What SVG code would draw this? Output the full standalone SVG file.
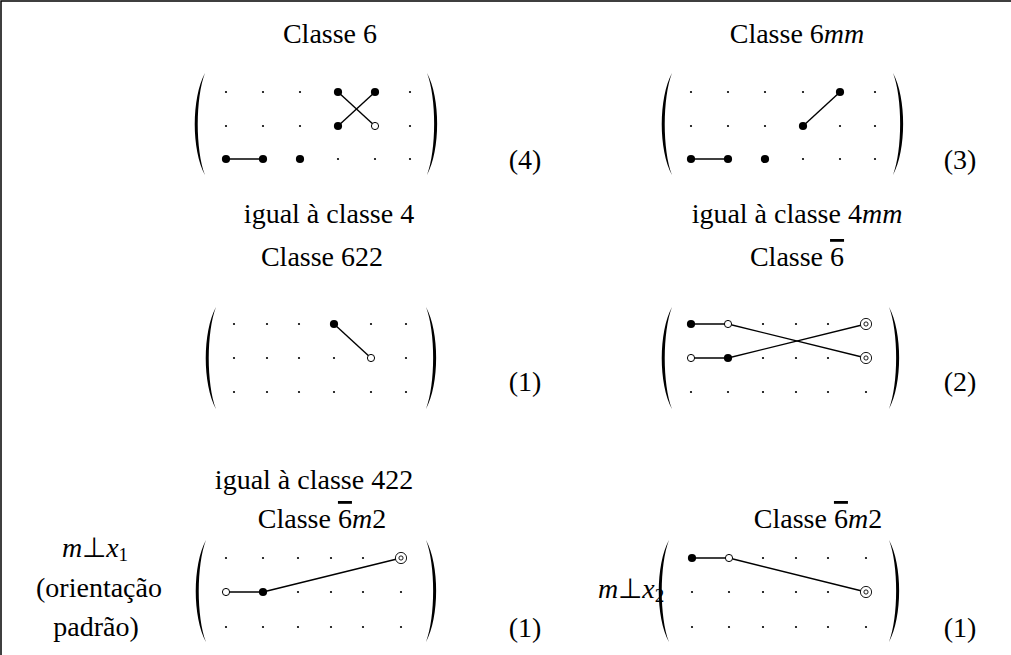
<svg xmlns="http://www.w3.org/2000/svg" xmlns:xlink="http://www.w3.org/1999/xlink" width="1011" height="655" viewBox="0 0 1011 655">
<style>
text{font-family:"Liberation Serif","Times New Roman",serif;font-size:28px;fill:#000}
.i{font-style:italic}
.c{text-anchor:middle}
.bar{text-decoration:overline}
.d{fill:#000}
.ln{stroke:#000;stroke-width:1.4;fill:none}
.par{fill:#000}
.frame{stroke:#000;stroke-width:1.5;fill:none}
</style>
<defs>
<path id="lp" d="M10 0 C -3.6 25, -3.6 77, 10 102 C 0.4 77, 0.4 25, 10 0 Z"/>
<path id="rp" d="M0 0 C 13.6 25, 13.6 77, 0 102 C 9.6 77, 9.6 25, 0 0 Z"/>
<circle id="sd" r="1.1"/>
<circle id="fd" r="4.1"/>
<circle id="od" r="3.6" fill="#fff" stroke="#000" stroke-width="1"/>
<g id="dd"><circle r="5.6" fill="#fff" stroke="#000" stroke-width="0.9"/><circle r="2.1" fill="none" stroke="#000" stroke-width="0.9"/></g>
</defs>
<path class="frame" d="M1 655 V1 H1011"/>

<g id="panel-6">
<text class="c" x="330" y="43">Classe 6</text>
<use href="#lp" x="195" y="73" class="par"/><use href="#rp" x="427" y="73" class="par"/>
<g class="ln"><line x1="338" y1="92" x2="375" y2="126"/><line x1="338" y1="126" x2="375" y2="92"/><line x1="226" y1="159" x2="263" y2="159"/></g>
<g class="d">
<use href="#sd" x="226" y="92"/><use href="#sd" x="263" y="92"/><use href="#sd" x="300" y="92"/><use href="#sd" x="410" y="92"/>
<use href="#sd" x="226" y="126"/><use href="#sd" x="263" y="126"/><use href="#sd" x="300" y="126"/><use href="#sd" x="410" y="126"/>
<use href="#sd" x="338" y="159"/><use href="#sd" x="375" y="159"/><use href="#sd" x="410" y="159"/>
</g>
<use href="#fd" x="338" y="92"/><use href="#fd" x="375" y="92"/><use href="#fd" x="338" y="126"/><use href="#od" x="375" y="126"/>
<use href="#fd" x="226" y="159"/><use href="#fd" x="263" y="159"/><use href="#fd" x="300" y="159"/>
<text class="c" x="525" y="169">(4)</text>
<text class="c" x="329" y="223">igual à classe 4</text>
</g>

<g id="panel-6mm">
<text class="c" x="797" y="43">Classe 6<tspan class="i">mm</tspan></text>
<use href="#lp" x="662" y="73" class="par"/><use href="#rp" x="893" y="73" class="par"/>
<g class="ln"><line x1="803" y1="126" x2="840" y2="92"/><line x1="691" y1="159" x2="728" y2="159"/></g>
<g class="d">
<use href="#sd" x="691" y="92"/><use href="#sd" x="728" y="92"/><use href="#sd" x="765" y="92"/><use href="#sd" x="803" y="92"/><use href="#sd" x="875" y="92"/>
<use href="#sd" x="691" y="126"/><use href="#sd" x="728" y="126"/><use href="#sd" x="765" y="126"/><use href="#sd" x="840" y="126"/><use href="#sd" x="875" y="126"/>
<use href="#sd" x="803" y="159"/><use href="#sd" x="840" y="159"/><use href="#sd" x="875" y="159"/>
</g>
<use href="#fd" x="840" y="92"/><use href="#fd" x="803" y="126"/>
<use href="#fd" x="691" y="159"/><use href="#fd" x="728" y="159"/><use href="#fd" x="765" y="159"/>
<text class="c" x="960" y="169">(3)</text>
<text class="c" x="797" y="223">igual à classe 4<tspan class="i">mm</tspan></text>
</g>

<g id="panel-622">
<text class="c" x="322" y="266">Classe 622</text>
<use href="#lp" x="206" y="307" class="par"/><use href="#rp" x="426" y="307" class="par"/>
<g class="ln"><line x1="334" y1="324" x2="371" y2="358"/></g>
<g class="d">
<use href="#sd" x="234" y="324"/><use href="#sd" x="267" y="324"/><use href="#sd" x="299" y="324"/><use href="#sd" x="371" y="324"/><use href="#sd" x="406" y="324"/>
<use href="#sd" x="234" y="358"/><use href="#sd" x="267" y="358"/><use href="#sd" x="299" y="358"/><use href="#sd" x="334" y="358"/><use href="#sd" x="406" y="358"/>
<use href="#sd" x="234" y="392"/><use href="#sd" x="267" y="392"/><use href="#sd" x="299" y="392"/><use href="#sd" x="334" y="392"/><use href="#sd" x="371" y="392"/><use href="#sd" x="406" y="392"/>
</g>
<use href="#fd" x="334" y="324"/><use href="#od" x="371" y="358"/>
<text class="c" x="525" y="391">(1)</text>
<text class="c" x="314" y="489">igual à classe 422</text>
</g>

<g id="panel-6bar">
<text class="c" x="797" y="266">Classe <tspan class="bar">6</tspan></text>
<use href="#lp" x="662" y="307" class="par"/><use href="#rp" x="889" y="307" class="par"/>
<g class="ln"><line x1="691" y1="324" x2="728" y2="324"/><line x1="691" y1="358" x2="728" y2="358"/><line x1="728" y1="324" x2="866" y2="358"/><line x1="728" y1="358" x2="866" y2="324"/></g>
<g class="d">
<use href="#sd" x="763" y="324"/><use href="#sd" x="796" y="324"/><use href="#sd" x="828" y="324"/>
<use href="#sd" x="763" y="358"/><use href="#sd" x="796" y="358"/><use href="#sd" x="828" y="358"/>
<use href="#sd" x="691" y="392"/><use href="#sd" x="728" y="392"/><use href="#sd" x="763" y="392"/><use href="#sd" x="796" y="392"/><use href="#sd" x="828" y="392"/><use href="#sd" x="866" y="392"/>
</g>
<use href="#fd" x="691" y="324"/><use href="#od" x="728" y="324"/><use href="#dd" x="866" y="324"/>
<use href="#od" x="691" y="358"/><use href="#fd" x="728" y="358"/><use href="#dd" x="866" y="358"/>
<text class="c" x="960" y="391">(2)</text>
</g>

<g id="panel-6barm2-x1">
<text class="c" x="322" y="528">Classe <tspan class="bar">6</tspan><tspan class="i">m</tspan>2</text>
<text class="c" x="95" y="557"><tspan class="i">m</tspan>⊥<tspan class="i">x</tspan><tspan font-size="19" dy="4">1</tspan></text>
<text class="c" x="99" y="597">(orientação</text>
<text class="c" x="96" y="636">padrão)</text>
<use href="#lp" x="196" y="540" class="par"/><use href="#rp" x="426" y="540" class="par"/>
<g class="ln"><line x1="226" y1="592" x2="263" y2="592"/><line x1="263" y1="592" x2="401" y2="558"/></g>
<g class="d">
<use href="#sd" x="226" y="558"/><use href="#sd" x="263" y="558"/><use href="#sd" x="298" y="558"/><use href="#sd" x="331" y="558"/><use href="#sd" x="363" y="558"/>
<use href="#sd" x="298" y="592"/><use href="#sd" x="331" y="592"/><use href="#sd" x="363" y="592"/><use href="#sd" x="401" y="592"/>
<use href="#sd" x="226" y="627"/><use href="#sd" x="263" y="627"/><use href="#sd" x="298" y="627"/><use href="#sd" x="331" y="627"/><use href="#sd" x="363" y="627"/><use href="#sd" x="401" y="627"/>
</g>
<use href="#od" x="226" y="592"/><use href="#fd" x="263" y="592"/><use href="#dd" x="401" y="558"/>
<text class="c" x="525" y="637">(1)</text>
</g>

<g id="panel-6barm2-x2">
<text class="c" x="818" y="528">Classe <tspan class="bar">6</tspan><tspan class="i">m</tspan>2</text>
<text x="598" y="598"><tspan class="i">m</tspan>⊥<tspan class="i">x</tspan><tspan font-size="19" dy="4">2</tspan></text>
<use href="#lp" x="659" y="540" class="par"/><use href="#rp" x="889" y="540" class="par"/>
<g class="ln"><line x1="692" y1="558" x2="729" y2="558"/><line x1="729" y1="558" x2="866" y2="592"/></g>
<g class="d">
<use href="#sd" x="763" y="558"/><use href="#sd" x="796" y="558"/><use href="#sd" x="828" y="558"/><use href="#sd" x="866" y="558"/>
<use href="#sd" x="692" y="592"/><use href="#sd" x="729" y="592"/><use href="#sd" x="763" y="592"/><use href="#sd" x="796" y="592"/><use href="#sd" x="828" y="592"/>
<use href="#sd" x="692" y="627"/><use href="#sd" x="729" y="627"/><use href="#sd" x="763" y="627"/><use href="#sd" x="796" y="627"/><use href="#sd" x="828" y="627"/><use href="#sd" x="866" y="627"/>
</g>
<use href="#fd" x="692" y="558"/><use href="#od" x="729" y="558"/><use href="#dd" x="866" y="592"/>
<text class="c" x="960" y="637">(1)</text>
</g>
</svg>
